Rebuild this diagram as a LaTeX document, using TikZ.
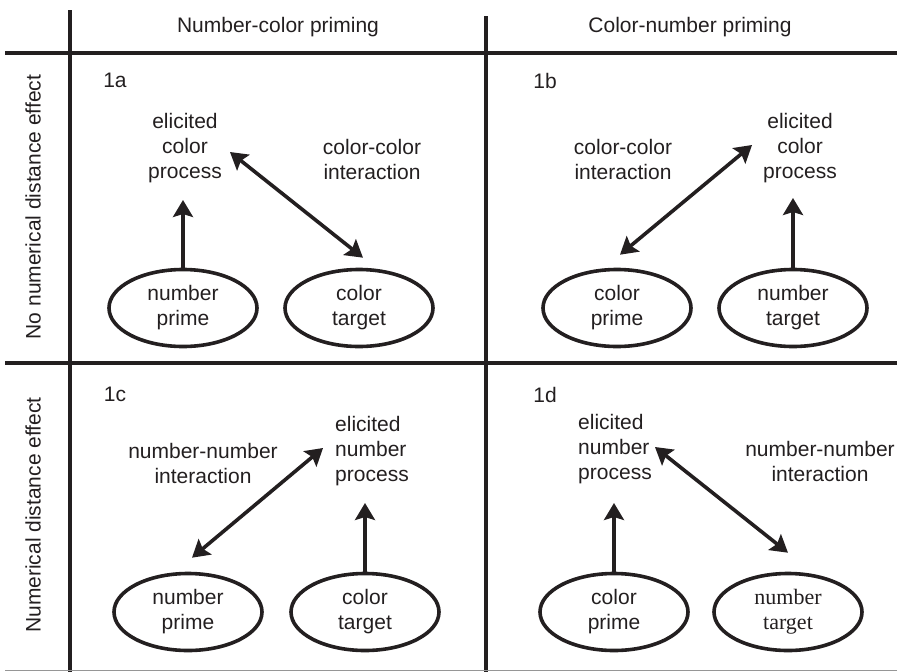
\documentclass[tikz,border=0pt]{standalone}
\usepackage{fontspec}
\setmainfont{Liberation Sans}
\newfontfamily\serifnum{Liberation Serif}
\usetikzlibrary{arrows.meta, shapes.geometric, positioning}
\definecolor{inkcolor}{RGB}{35,31,32}
\definecolor{rulecolor}{RGB}{150,150,150}

\begin{document}
\begin{tikzpicture}[
    x=1pt, y=-1pt,
    every node/.style={font=\fontsize{21}{25}\selectfont, text=inkcolor},
    grid/.style={line width=3.6pt, draw=inkcolor},
    stim/.style={draw=inkcolor, ellipse, line width=3.6pt, minimum width=148pt, minimum height=77pt, inner sep=0pt, align=center},
    proc/.style={inner sep=2pt, align=center},
    lbl/.style={inner sep=2pt, align=center},
    feed/.style={-{Stealth[length=17pt, width=20pt, inset=3pt]}, line width=3.6pt, draw=inkcolor},
    inter/.style={{Stealth[length=17pt, width=20pt, inset=3pt]}-{Stealth[length=17pt, width=20pt, inset=3pt]}, line width=3.6pt, draw=inkcolor}
]
    \useasboundingbox (0,0) rectangle (897,672);

    % Grid
    \draw[grid] (70,10) -- (70,672);
    \draw[grid] (486,16) -- (486,672);
    \draw[grid] (5,53) -- (897,53);
    \draw[grid] (5,363) -- (897,363);
    \draw[line width=1.5pt, rulecolor] (5,670.5) -- (897,670.5);

    % Headers
    \node (numcol) at (278,27) {Number-color priming};
    \node (colnum) at (690,27) {Color-number priming};
    \node[rotate=90] (nodist) at (33,207) {No numerical distance effect};
    \node[rotate=90] (dist) at (33,515) {Numerical distance effect};

    % Panel 1a
    \node (tag1a) at (115,80) {1a};
    \node[proc] (proc1a) at (185,148) {elicited\\color\\process};
    \node[lbl] (int1a) at (372,159) {color-color\\interaction};
    \node[stim] (np1a) at (183,308) {number\\prime};
    \node[stim] (ct1a) at (359,308) {color\\target};
    \draw[feed, shorten >=15pt] (np1a.north) -- (np1a.north |- proc1a.south);
    \draw[inter] ([xshift=6pt, yshift=-4pt]proc1a.east) -- ([xshift=4pt, yshift=10pt]ct1a.north);

    % Panel 1b
    \node (tag1b) at (545,81) {1b};
    \node[lbl] (int1b) at (623,159) {color-color\\interaction};
    \node[proc] (proc1b) at (800,148) {elicited\\color\\process};
    \node[stim] (cp1b) at (617,308) {color\\prime};
    \node[stim] (nt1b) at (793,308) {number\\target};
    \draw[feed, shorten >=13pt] (nt1b.north) -- (nt1b.north |- proc1b.south);
    \draw[inter] ([xshift=3pt, yshift=13pt]cp1b.north) -- ([xshift=-9pt, yshift=3pt]proc1b.west);

    % Panel 1c
    \node (tag1c) at (115,394) {1c};
    \node[lbl] (int1c) at (203,463) {number-number\\interaction};
    \node[proc, align=left] (proc1c) at (372,451) {elicited\\number\\process};
    \node[stim] (np1c) at (188,612) {number\\prime};
    \node[stim] (ct1c) at (365,612) {color\\target};
    \draw[feed, shorten >=15pt] (ct1c.north) -- (ct1c.north |- proc1c.south);
    \draw[inter] ([xshift=4pt, yshift=14pt]np1c.north) -- ([xshift=-10pt, yshift=3pt]proc1c.west);

    % Panel 1d
    \node (tag1d) at (545,395) {1d};
    \node[proc, align=left] (proc1d) at (615,449) {elicited\\number\\process};
    \node[lbl] (int1d) at (820,461) {number-number\\interaction};
    \node[stim] (cp1d) at (614,612) {color\\prime};
    \node[stim, font={\fontsize{22}{25}\serifnum}] (nt1d) at (788,612) {number\\target};
    \draw[feed, shorten >=17pt] (cp1d.north) -- (cp1d.north |- proc1d.south);
    \draw[inter] ([xshift=1pt, yshift=2pt]proc1d.east) -- ([yshift=19pt]nt1d.north);
\end{tikzpicture}
\end{document}
